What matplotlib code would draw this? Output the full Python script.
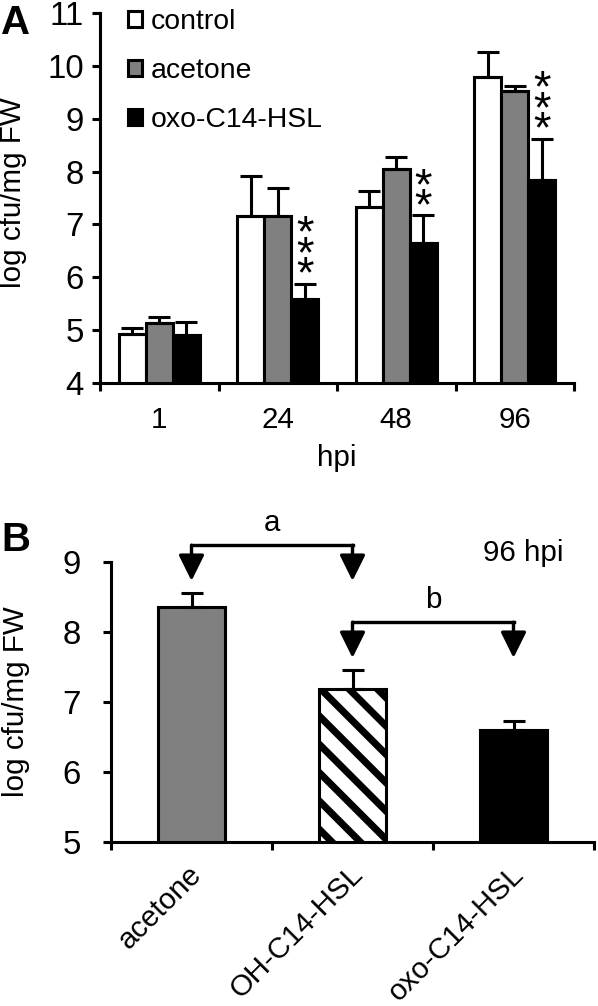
import numpy as np
import matplotlib
matplotlib.use('Agg')
import matplotlib.pyplot as plt
from matplotlib.patches import Patch
from matplotlib.transforms import ScaledTranslation

# =================================================================================
# Bacterial growth (log cfu/mg FW) after AHL pre-treatment, panels A and B
# =================================================================================

plt.rcParams['font.family'] = ['Liberation Sans', 'DejaVu Sans']
plt.rcParams['hatch.linewidth'] = 3.0

DPI = 170
W, H = 598, 1006
PT = 72 / DPI          # one pixel in points

# Panel A data
hpi = ['1', '24', '48', '96']
series_a = ['control', 'acetone', 'oxo-C14-HSL']
mean_control = [4.92, 7.16, 7.33, 9.79]
mean_acetone = [5.14, 7.16, 8.04, 9.53]
mean_oxo = [4.91, 5.59, 6.64, 7.85]
err_control = [0.12, 0.76, 0.30, 0.47]
err_acetone = [0.11, 0.52, 0.24, 0.09]
err_oxo = [0.25, 0.29, 0.53, 0.77]
stars_oxo = ['', '***', '**', '***']

# Panel B data (96 hpi)
treatments = ['acetone', 'OH-C14-HSL', 'oxo-C14-HSL']
mean_b = [8.36, 7.19, 6.60]
err_b = [0.20, 0.27, 0.13]
brackets = [(0, 1, 'a'), (1, 2, 'b')]

lw = 1.3
fs = 12.5
fs_y = 14
gray = '#808080'

fig = plt.figure(figsize=(W / DPI, H / DPI), dpi=DPI)


def style_axes(ax, ypad):
    for s in ['top', 'right']:
        ax.spines[s].set_visible(False)
    for s in ['left', 'bottom']:
        ax.spines[s].set_linewidth(lw)
    ax.tick_params(axis='y', length=8 * PT, width=lw, pad=ypad * PT, labelsize=fs_y)
    ax.tick_params(axis='x', which='major', length=0, labelsize=fs)
    ax.tick_params(axis='x', which='minor', length=8 * PT, width=lw)


# ---------------- panel A ----------------
axA = fig.add_axes([100 / W, 1 - 383 / H, 474 / W, 370 / H])
x = np.arange(len(hpi))
w = 0.228
colors = ['white', gray, 'black']
means = [mean_control, mean_acetone, mean_oxo]
errs = [err_control, err_acetone, err_oxo]
for k in range(3):
    axA.bar(x + (k - 1) * w, means[k], w, color=colors[k], edgecolor='black',
            linewidth=lw, yerr=[np.zeros(len(x)), errs[k]],
            error_kw=dict(ecolor='black', elinewidth=lw, capsize=11 * PT, capthick=lw))

# significance stars above the oxo-C14-HSL bars
for i, s in enumerate(stars_oxo):
    if not s:
        continue
    top = mean_oxo[i] + err_oxo[i]
    axA.annotate('\n'.join(s), xy=(x[i] + w, top), xytext=(0, -13 * PT),
                 textcoords='offset points', ha='center', va='bottom',
                 fontsize=19, linespacing=0.36)

axA.set_xlim(-0.5, len(hpi) - 0.5)
axA.set_ylim(4, 11)
axA.set_yticks(range(4, 12))
axA.set_xticks(x)
axA.set_xticklabels(hpi)
axA.set_xticks(np.arange(-0.5, len(hpi), 1), minor=True)
style_axes(axA, 8)
axA.tick_params(axis='x', which='major', pad=23 * PT)
axA.set_xlabel('hpi', fontsize=fs)
axA.xaxis.set_label_coords(0.5, -0.165)
axA.set_ylabel('log cfu/mg FW', fontsize=fs)
axA.yaxis.set_label_coords(-0.154, 0.514)

handles = [Patch(facecolor=c, edgecolor='black', linewidth=lw) for c in colors]
axA.legend(handles, series_a, loc='upper left', bbox_to_anchor=(28 / 474, 1 + 4 / 370),
           frameon=False, fontsize=12, handlelength=0.5, handleheight=0.5,
           handletextpad=0.32, labelspacing=0.82, borderpad=0, borderaxespad=0)

# ---------------- panel B ----------------
axB = fig.add_axes([111 / W, 1 - 842 / H, 483 / W, 280 / H])
xb = np.arange(len(treatments))
axB.bar(xb, mean_b, 0.41, color=[gray, 'white', 'black'], edgecolor='black',
        linewidth=lw, hatch=['', '\\\\', ''], yerr=[np.zeros(len(xb)), err_b],
        error_kw=dict(ecolor='black', elinewidth=lw, capsize=11 * PT, capthick=lw))

for i, j, lab in brackets:
    tip = mean_b[i] + err_b[i] + 0.17
    line = tip + 0.51
    axB.plot([i, j], [line, line], color='black', lw=lw * 1.1, clip_on=False,
             solid_capstyle='projecting')
    for xx in (i, j):
        axB.annotate('', xy=(xx, tip), xytext=(xx, line), annotation_clip=False,
                     arrowprops=dict(arrowstyle='-|>,head_length=9.3,head_width=4.6',
                                     mutation_scale=1, color='black', lw=lw * 1.1,
                                     shrinkA=0, shrinkB=0))
    axB.text((i + j) / 2, line + 0.12, lab, ha='center', va='bottom', fontsize=fs)

axB.text(2.06, 9.13, '96 hpi', ha='center', va='center', fontsize=fs)

axB.set_xlim(-0.5, len(treatments) - 0.5)
axB.set_ylim(5, 9)
axB.set_yticks(range(5, 10))
axB.set_xticks(xb)
axB.set_xticklabels(treatments, rotation=45, ha='right', va='top', rotation_mode='anchor')
axB.set_xticks(np.arange(-0.5, len(treatments), 1), minor=True)
style_axes(axB, 22)
axB.tick_params(axis='x', which='major', pad=18 * PT)
shift = ScaledTranslation(-4 / DPI, 0, fig.dpi_scale_trans)
for lbl in axB.get_xticklabels():
    lbl.set_transform(lbl.get_transform() + shift)
axB.set_ylabel('log cfu/mg FW', fontsize=fs)
axB.yaxis.set_label_coords(-0.168, 0.5)

fig.text(1 / W, 1 - 23 / H, 'A', fontsize=17, fontweight='bold', va='center', ha='left')
fig.text(1 / W, 1 - 540 / H, 'B', fontsize=17, fontweight='bold', va='center', ha='left')

fig.savefig('out.png', dpi=DPI)
